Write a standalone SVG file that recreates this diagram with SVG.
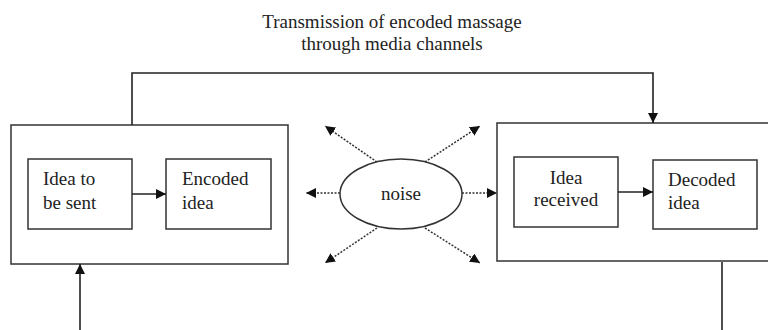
<svg xmlns="http://www.w3.org/2000/svg" width="768" height="330" viewBox="0 0 768 330">
<defs>
<marker id="ah" viewBox="0 0 10 10" refX="10" refY="5" markerWidth="10" markerHeight="10" markerUnits="userSpaceOnUse" orient="auto">
<path d="M0,0 L10,5 L0,10 Z" fill="#111"/>
</marker>
</defs>
<style>
.box{fill:#fff;stroke:#333;stroke-width:1.5}
.ln{fill:none;stroke:#222;stroke-width:1.6}
.dot{fill:none;stroke:#333;stroke-width:1.5;stroke-dasharray:2 1.5}
text{font-family:"Liberation Serif","Times New Roman",serif;font-size:19px;fill:#222}
</style>
<rect width="768" height="330" fill="#fff"/>
<text x="392" y="28" text-anchor="middle">Transmission of encoded massage</text>
<text x="392" y="50" text-anchor="middle">through media channels</text>
<g id="sender">
<rect class="box" x="11" y="125" width="277" height="139"/>
</g>
<g id="receiver">
<rect class="box" x="497" y="123" width="280" height="138"/>
</g>
<g id="idea-to-be-sent">
<rect class="box" x="28" y="159" width="104" height="70"/>
<text x="43" y="185">Idea to</text>
<text x="43" y="209">be sent</text>
</g>
<g id="encoded-idea">
<rect class="box" x="166" y="159" width="105" height="70"/>
<text x="182" y="185">Encoded</text>
<text x="182" y="209">idea</text>
</g>
<g id="idea-received">
<rect class="box" x="514" y="157" width="104" height="70"/>
<text x="566" y="184" text-anchor="middle">Idea</text>
<text x="566" y="206" text-anchor="middle">received</text>
</g>
<g id="decoded-idea">
<rect class="box" x="653" y="160" width="104" height="69"/>
<text x="668" y="186">Decoded</text>
<text x="668" y="209">idea</text>
</g>
<g id="noise">
<ellipse cx="401" cy="194" rx="61" ry="35" fill="#fff" stroke="#333" stroke-width="1.5"/>
<text x="401" y="200" text-anchor="middle">noise</text>
</g>
<g id="connectors">
<path class="ln" d="M132,125 V73 H653 V123" marker-end="url(#ah)"/>
<path class="ln" d="M132,194 H166" marker-end="url(#ah)"/>
<path class="ln" d="M618,192 H653" marker-end="url(#ah)"/>
<path class="ln" d="M80,330 V264" marker-end="url(#ah)"/>
<path class="ln" d="M722,262 V330"/>
<path class="dot" d="M340,193 H306" marker-end="url(#ah)"/>
<path class="dot" d="M462,193 H497" marker-end="url(#ah)"/>
<path class="dot" d="M377,162 L325,126" marker-end="url(#ah)"/>
<path class="dot" d="M425,162 L480,126" marker-end="url(#ah)"/>
<path class="dot" d="M377,228 L325,263" marker-end="url(#ah)"/>
<path class="dot" d="M425,228 L480,263" marker-end="url(#ah)"/>
</g>
</svg>
